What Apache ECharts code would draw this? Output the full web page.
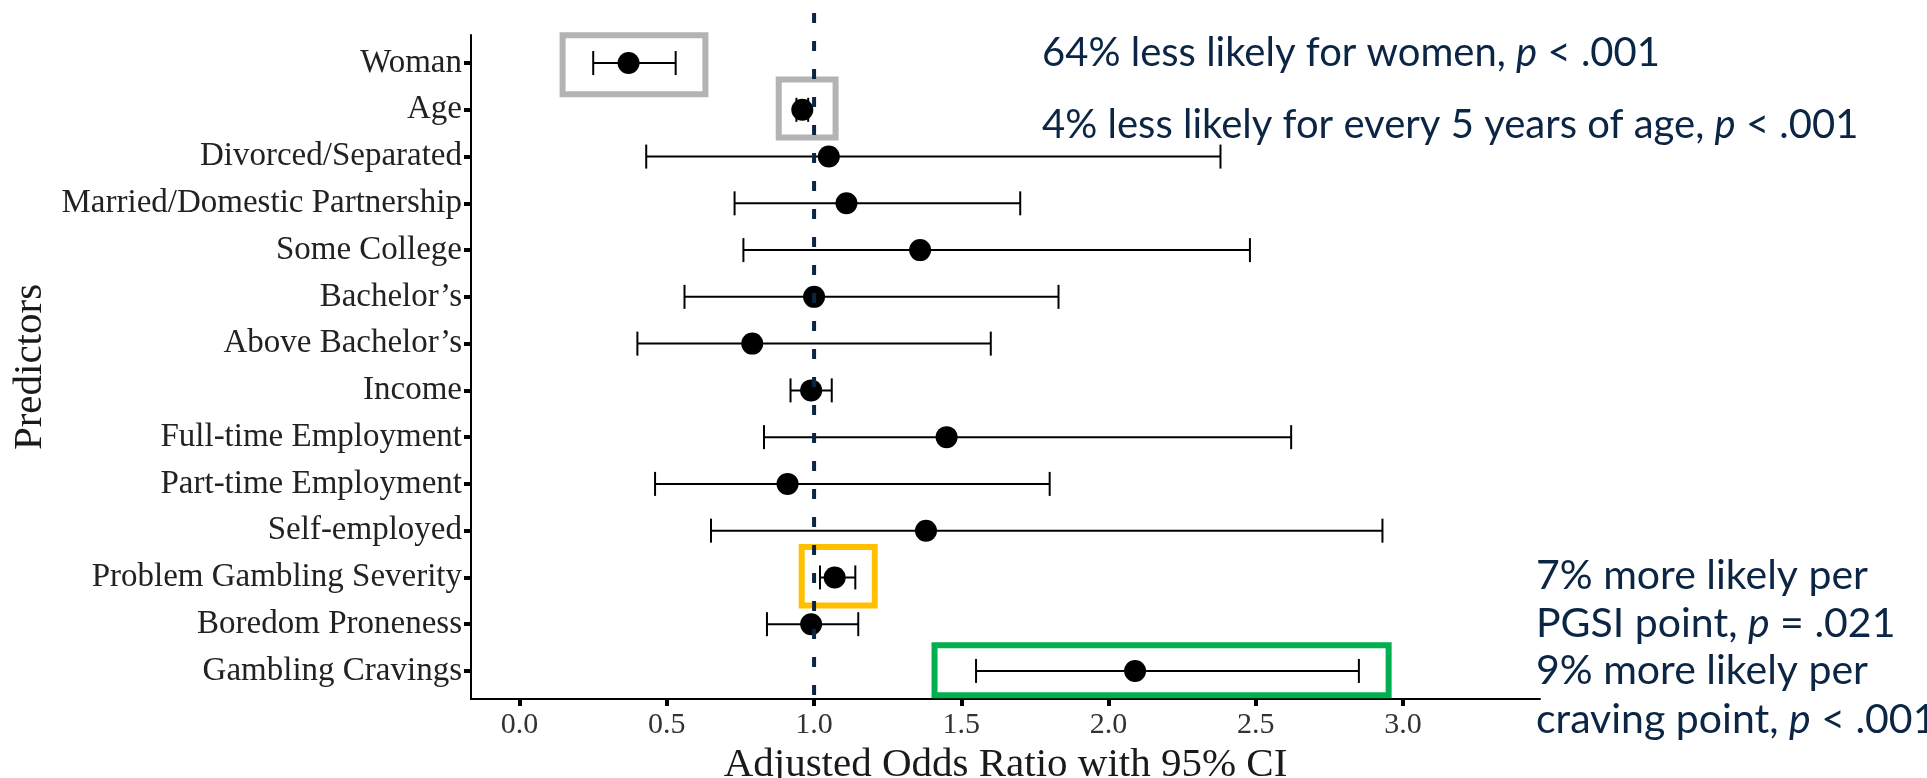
<!DOCTYPE html>
<html><head><meta charset="utf-8">
<script src="https://cdn.jsdelivr.net/npm/echarts@6/dist/echarts.min.js"></script>
<style>html,body{margin:0;padding:0;background:#fff}#c{width:1927px;height:778px}</style>
</head><body><div id="c"></div>
<script>
// ---- data ----
const categories = ["Woman","Age","Divorced/Separated","Married/Domestic Partnership","Some College","Bachelor\u2019s","Above Bachelor\u2019s","Income","Full-time Employment","Part-time Employment","Self-employed","Problem Gambling Severity","Boredom Proneness","Gambling Cravings"];
const oddsRatio = [0.37,0.96,1.05,1.11,1.36,1.00,0.79,0.99,1.45,0.91,1.38,1.07,0.99,2.09];
const ciLower   = [0.25,0.94,0.43,0.73,0.76,0.56,0.40,0.92,0.83,0.46,0.65,1.02,0.84,1.55];
const ciUpper   = [0.53,0.98,2.38,1.70,2.48,1.83,1.60,1.06,2.62,1.80,2.93,1.14,1.15,2.85];
const xTickValues = [0,0.5,1,1.5,2,2.5,3];
const referenceOR = 1;
// highlight boxes (x in odds-ratio units, y in predictor-index units)
const boxXMin = [0.146, 0.880, 0.958, 1.409];
const boxXMax = [0.631, 1.073, 1.206, 2.951];
const boxYMin = [-0.595, 0.35, 10.35, 12.45];
const boxYMax = [0.667, 1.59, 11.6, 13.52];
const boxColors = ["#b3b3b3","#b3b3b3","#ffc000","#00b050"];
const notes = [
  ["64% less likely for women, ", "p", " < .001"],
  ["4% less likely for every 5 years of age, ", "p", " < .001"],
  ["7% more likely per", "", ""],
  ["PGSI point, ", "p", " = .021"],
  ["9% more likely per", "", ""],
  ["craving point, ", "p", " < .001"]
];

const navy = "#0b2545";
const serif = "'Liberation Serif', 'DejaVu Serif', serif";
const idx = categories.map((_, i) => i);

const chart = echarts.init(document.getElementById('c'));

const errData = idx.map(i => [ciLower[i], ciUpper[i], i]);
const ptData = idx.map(i => [oddsRatio[i], i]);
const refData = [[referenceOR, -1.07, 13.6]];

const boxAreas = boxXMin.map((x, k) => [
  { coord: [x, boxYMin[k]], itemStyle: { color: 'rgba(0,0,0,0)', borderColor: boxColors[k], borderWidth: 6 } },
  { coord: [boxXMax[k], boxYMax[k]] }
]);

function noteGraphic(k, left, top, size) {
  const n = notes[k];
  let txt = '{a|' + n[0] + '}';
  if (n[1]) txt += '{i|' + n[1] + '}{a|' + n[2] + '}';
  return {
    type: 'text', left: left, top: top, z: 100,
    style: {
      text: txt,
      rich: {
        a: { fontFamily: 'Lato', fontSize: size, fill: navy, fontWeight: 400 },
        i: { fontFamily: 'Lato', fontSize: size, fill: navy, fontStyle: 'italic' }
      }
    }
  };
}

chart.setOption({
  animation: false,
  backgroundColor: '#fff',
  grid: { left: 471, right: 387, top: 35, bottom: 79, containLabel: false, outerBoundsMode: 'none' },
  xAxis: {
    type: 'value', min: -0.165, max: 3.465,
    name: 'Adjusted Odds Ratio with 95% CI', nameLocation: 'middle', nameGap: 46,
    nameTextStyle: { fontFamily: serif, fontSize: 41, color: '#1a1a1a' },
    axisLine: { show: true, onZero: false, lineStyle: { color: '#000', width: 2 } },
    axisTick: { show: true, customValues: xTickValues, length: 7, lineStyle: { color: '#000', width: 4 } },
    axisLabel: { customValues: xTickValues, formatter: v => v.toFixed(1), fontFamily: serif, fontSize: 30, color: '#333', margin: 11 },
    splitLine: { show: false }
  },
  yAxis: {
    type: 'value', min: -0.6, max: 13.6, inverse: true,
    name: 'Predictors', nameLocation: 'middle', nameGap: 400, nameRotate: 90,
    nameTextStyle: { fontFamily: serif, fontSize: 41, color: '#1a1a1a' },
    axisLine: { show: true, onZero: false, lineStyle: { color: '#000', width: 2 } },
    axisTick: { show: true, customValues: idx, length: 7, lineStyle: { color: '#000', width: 4 } },
    axisLabel: { customValues: idx, formatter: v => categories[Math.round(v)], fontFamily: serif, fontSize: 33, color: '#222', margin: 9 },
    splitLine: { show: false }
  },
  graphic: [
    noteGraphic(0, 1042, 33, 40),
    noteGraphic(1, 1042, 105, 40),
    noteGraphic(2, 1536, 555, 41),
    noteGraphic(3, 1536, 603, 41),
    noteGraphic(4, 1536, 650, 41),
    noteGraphic(5, 1536, 699, 41)
  ],
  series: [
    {
      type: 'custom', name: 'ci', data: errData, z: 2,
      renderItem: function (params, api) {
        const y = api.value(2);
        const a = api.coord([api.value(0), y]);
        const b = api.coord([api.value(1), y]);
        const h = 12;
        const st = { stroke: '#000', lineWidth: 2 };
        return { type: 'group', children: [
          { type: 'line', shape: { x1: a[0], y1: a[1], x2: b[0], y2: b[1] }, style: st },
          { type: 'line', shape: { x1: a[0], y1: a[1] - h, x2: a[0], y2: a[1] + h }, style: st },
          { type: 'line', shape: { x1: b[0], y1: b[1] - h, x2: b[0], y2: b[1] + h }, style: st }
        ]};
      },
      markArea: { silent: true, data: boxAreas, z: 1 }
    },
    {
      type: 'scatter', name: 'or', data: ptData, symbol: 'circle', symbolSize: 22, z: 3,
      itemStyle: { color: '#000', opacity: 1 }
    },
    {
      type: 'custom', name: 'ref', data: refData, z: 10, clip: false, silent: true,
      renderItem: function (params, api) {
        const a = api.coord([api.value(0), api.value(1)]);
        const b = api.coord([api.value(0), api.value(2)]);
        return { type: 'line', shape: { x1: a[0], y1: a[1], x2: b[0], y2: b[1] },
          style: { stroke: navy, lineWidth: 4, lineDash: [10, 18] } };
      }
    }
  ]
});
</script></body></html>
